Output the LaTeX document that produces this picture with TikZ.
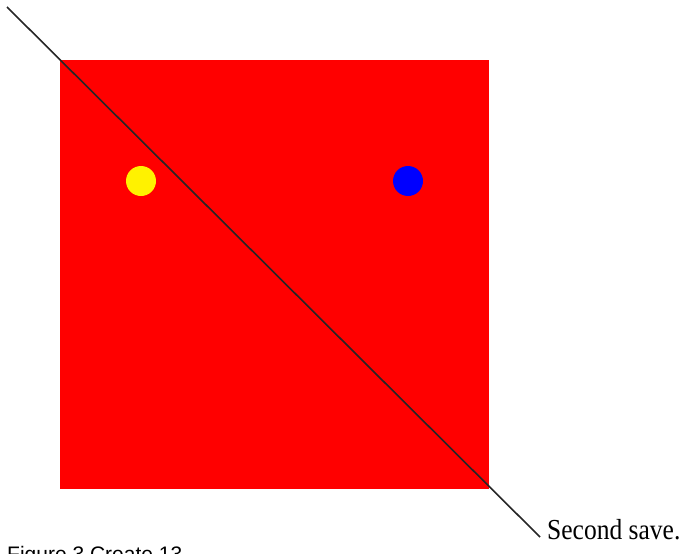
\documentclass[tikz,border=0pt]{standalone}
\usepackage{fontspec}
\setmainfont{Liberation Serif}
\newfontfamily\captionfont{Liberation Sans}
\usepackage{tikz}

\begin{document}
\begin{tikzpicture}[
  x=1pt, y=-1pt,
  dot/.style={circle, minimum size=30pt, inner sep=0pt},
  savetext/.style={anchor=base west, inner sep=0pt, xscale=0.88, font=\fontsize{29}{29}\selectfont},
  figtext/.style={anchor=north west, inner sep=0pt, font=\captionfont\fontsize{21}{21}\selectfont}
]
\useasboundingbox (0,0) rectangle (688,554);
\fill[red] (60,60) rectangle (489,489);
\node[dot, fill=yellow] (yellowdot) at (141,181) {};
\node[dot, fill=blue] (bluedot) at (408,181) {};
\coordinate (linestart) at (7,7);
\coordinate (lineend) at (540,537);
\draw[line width=1.6pt, black!85] (linestart) -- (lineend);
\node[savetext] (save) at (547,539) {Second save.};
\begin{scope}
  \clip (0,0) rectangle (688,554);
  \node[figtext] (fig) at (7,546) {Figure 3 Create 13};
\end{scope}
\end{tikzpicture}
\end{document}
